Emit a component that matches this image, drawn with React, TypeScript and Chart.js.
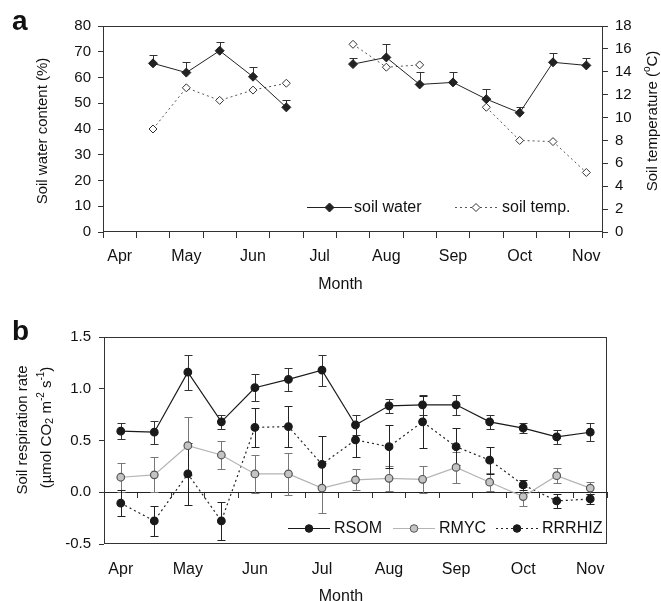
import React, { useEffect, useRef } from 'react';
import { Chart, registerables } from 'chart.js';

Chart.register(...registerables);

// ---------- data ----------
const monthLabels = ['Apr', '', 'May', '', 'Jun', '', 'Jul', '', 'Aug', '', 'Sep', '', 'Oct', '', 'Nov'];

const soilWater = [null, 65.5, 61.9, 70.4, 60.3, 48.4, null, 65.2, 67.8, 57.3, 58.1, 51.6, 46.3, 65.9, 64.7];
const soilWaterErr = [null, 3.2, 4.0, 3.5, 3.9, 2.8, null, 2.5, 5.1, 4.7, 3.9, 3.8, 2.3, 3.7, 2.7];
const soilTemp = [null, 9.0, 12.6, 11.5, 12.4, 13.0, null, 16.4, 14.4, 14.6, null, 10.9, 8.0, 7.9, 5.2];

const rsom = [0.59, 0.58, 1.16, 0.68, 1.01, 1.09, 1.18, 0.65, 0.835, 0.845, 0.845, 0.68, 0.62, 0.535, 0.58];
const rsomErr = [0.08, 0.11, 0.17, 0.065, 0.13, 0.115, 0.15, 0.095, 0.07, 0.095, 0.095, 0.07, 0.05, 0.07, 0.085];
const rmyc = [0.145, 0.168, 0.45, 0.36, 0.177, 0.177, 0.04, 0.12, 0.135, 0.125, 0.24, 0.097, -0.042, 0.16, 0.04];
const rmycErr = [0.14, 0.17, 0.28, 0.14, 0.18, 0.2, 0.24, 0.1, 0.12, 0.13, 0.15, 0.085, 0.09, 0.075, 0.06];
const rrrhiz = [-0.106, -0.277, 0.177, -0.277, 0.626, 0.635, 0.27, 0.506, 0.44, 0.68, 0.44, 0.31, 0.071, -0.084, -0.065];
const rrrhizErr = [0.125, 0.145, 0.3, 0.185, 0.185, 0.2, 0.27, 0.17, 0.21, 0.25, 0.18, 0.13, 0.05, 0.065, 0.045];

const FONT = '"Liberation Sans", Arial, Helvetica, sans-serif';
const TEXT = '#111';
const AXIS = '#333';

// ---------- plugins ----------
const framePlugin = {
  id: 'frame',
  beforeDatasetsDraw(chart: any) {
    const { ctx, chartArea: a } = chart;
    ctx.save();
    ctx.strokeStyle = AXIS;
    ctx.lineWidth = 1;
    const l = Math.round(a.left) + 0.5;
    const t = Math.round(a.top) + 0.5;
    const r = Math.round(a.right) - 0.5;
    const b = Math.round(a.bottom) - 0.5;
    ctx.strokeRect(l, t, r - l, b - t);
    ctx.restore();
  },
};

const errorBarPlugin = {
  id: 'errorBars',
  beforeDatasetsDraw(chart: any) {
    const ctx = chart.ctx;
    chart.data.datasets.forEach((ds: any, i: number) => {
      if (!ds.errors) return;
      const meta = chart.getDatasetMeta(i);
      const xs = chart.scales[meta.xAxisID];
      const ys = chart.scales[meta.yAxisID];
      const cap = ds.errorCap || 4;
      ctx.save();
      ctx.strokeStyle = ds.errorColor || '#222';
      ctx.lineWidth = 1;
      ds.data.forEach((v: number | null, j: number) => {
        const e = ds.errors[j];
        if (v == null || e == null) return;
        const x = Math.round(xs.getPixelForValue(j)) + 0.5;
        const yTop = Math.round(ys.getPixelForValue(v + e)) + 0.5;
        const yBot = ds.errorMode === 'up'
          ? ys.getPixelForValue(v)
          : Math.round(ys.getPixelForValue(v - e)) + 0.5;
        ctx.beginPath();
        ctx.moveTo(x, yTop);
        ctx.lineTo(x, yBot);
        ctx.moveTo(x - cap, yTop);
        ctx.lineTo(x + cap, yTop);
        if (ds.errorMode !== 'up') {
          ctx.moveTo(x - cap, yBot);
          ctx.lineTo(x + cap, yBot);
        }
        ctx.stroke();
      });
      ctx.restore();
    });
  },
};

function drawMarker(ctx: any, style: string, x: number, y: number, r: number, fill: string, stroke: string) {
  ctx.save();
  ctx.fillStyle = fill;
  ctx.strokeStyle = stroke;
  ctx.lineWidth = 1;
  ctx.setLineDash([]);
  ctx.beginPath();
  if (style === 'rectRot') {
    ctx.moveTo(x, y - r);
    ctx.lineTo(x + r, y);
    ctx.lineTo(x, y + r);
    ctx.lineTo(x - r, y);
    ctx.closePath();
  } else {
    ctx.arc(x, y, r, 0, Math.PI * 2);
  }
  ctx.fill();
  ctx.stroke();
  ctx.restore();
}

const legendPlugin = {
  id: 'inLegend',
  afterDatasetsDraw(chart: any, _args: any, opts: any) {
    if (!opts || !opts.items) return;
    const ctx = chart.ctx;
    opts.items.forEach((it: any) => {
      const ds = chart.data.datasets[it.ds];
      const y = opts.y;
      ctx.save();
      ctx.strokeStyle = ds.borderColor;
      ctx.lineWidth = ds.borderWidth || 1;
      ctx.setLineDash(ds.borderDash || []);
      ctx.beginPath();
      ctx.moveTo(it.x0, y + 0.5);
      ctx.lineTo(it.x1, y + 0.5);
      ctx.stroke();
      ctx.restore();
      drawMarker(ctx, ds.pointStyle, (it.x0 + it.x1) / 2, y + 0.5, ds.pointRadius, ds.pointBackgroundColor, ds.pointBorderColor);
      ctx.save();
      ctx.fillStyle = TEXT;
      ctx.font = `${opts.size}px ${FONT}`;
      ctx.textBaseline = 'middle';
      ctx.textAlign = 'left';
      ctx.fillText(ds.label, it.tx, y + 1);
      ctx.restore();
    });
  },
};

const textPlugin = {
  id: 'texts',
  afterDraw(chart: any, _args: any, opts: any) {
    if (!opts || !opts.items) return;
    const ctx = chart.ctx;
    opts.items.forEach((it: any) => {
      ctx.save();
      ctx.fillStyle = TEXT;
      ctx.textBaseline = 'alphabetic';
      ctx.textAlign = 'left';
      ctx.translate(it.x, it.y);
      if (it.rot) ctx.rotate(it.rot);
      let total = 0;
      const segs = it.segs.map((s: any) => {
        const size = s.size || it.size || 15;
        const font = `${s.bold || it.bold ? 'bold ' : ''}${size}px ${FONT}`;
        ctx.font = font;
        const w = ctx.measureText(s.t).width;
        total += w;
        return { ...s, font, w };
      });
      let x = it.align === 'left' ? 0 : -total / 2;
      segs.forEach((s: any) => {
        ctx.font = s.font;
        ctx.fillText(s.t, x, s.dy || 0);
        x += s.w;
      });
      ctx.restore();
    });
  },
};

// ---------- component ----------
export default function App() {
  const refA = useRef<HTMLCanvasElement>(null);
  const refB = useRef<HTMLCanvasElement>(null);

  useEffect(() => {
    Chart.defaults.font.family = FONT;
    Chart.defaults.font.size = 15;
    Chart.defaults.color = TEXT;

    const tickGrid = (len: number) => ({
      display: true,
      drawOnChartArea: false,
      drawTicks: true,
      tickLength: len,
      color: AXIS,
      offset: true,
    });

    const chartA = new Chart(refA.current as HTMLCanvasElement, {
      type: 'line',
      data: {
        labels: monthLabels,
        datasets: [
          {
            label: 'soil water',
            data: soilWater,
            yAxisID: 'y',
            borderColor: '#222',
            borderWidth: 1,
            pointStyle: 'rectRot',
            pointRadius: 4.5,
            pointBackgroundColor: '#222',
            pointBorderColor: '#222',
            spanGaps: false,
            errors: soilWaterErr,
            errorMode: 'up',
            errorColor: '#333',
            errorCap: 4,
          } as any,
          {
            label: 'soil temp.',
            data: soilTemp,
            yAxisID: 'y1',
            borderColor: '#555',
            borderWidth: 1,
            borderDash: [2, 3],
            pointStyle: 'rectRot',
            pointRadius: 4,
            pointBackgroundColor: '#fff',
            pointBorderColor: '#333',
            spanGaps: false,
          } as any,
        ],
      },
      options: {
        animation: false,
        responsive: false,
        devicePixelRatio: 1,
        layout: { padding: { top: 26, left: 0, right: 0, bottom: 0 } },
        plugins: {
          legend: { display: false },
          tooltip: { enabled: false },
          inLegend: {
            y: 207,
            size: 16,
            items: [
              { ds: 0, x0: 307, x1: 352, tx: 354 },
              { ds: 1, x0: 455, x1: 497, tx: 502 },
            ],
          },
          texts: {
            items: [
              { segs: [{ t: 'a' }], x: 12, y: 30, size: 28, bold: true, align: 'left' },
              { segs: [{ t: 'Soil water content (%)' }], x: 47, y: 131, rot: -Math.PI / 2 },
              {
                segs: [{ t: 'Soil temperature (' }, { t: 'o', size: 10, dy: -7 }, { t: 'C)' }],
                x: 657, y: 121, rot: -Math.PI / 2,
              },
              { segs: [{ t: 'Month' }], x: 340.5, y: 289, size: 16 },
            ],
          },
        } as any,
        scales: {
          x: {
            type: 'category',
            offset: true,
            grid: tickGrid(6),
            border: { display: false },
            ticks: { autoSkip: false, maxRotation: 0, minRotation: 0, padding: 9, color: TEXT, font: { size: 16 } },
            afterFit: (s: any) => { s.height = 68; },
          },
          y: {
            position: 'left',
            min: 0,
            max: 80,
            grid: { ...tickGrid(5), offset: false },
            border: { display: false },
            ticks: { stepSize: 10, padding: 7, color: TEXT },
            afterFit: (s: any) => { s.width = 103; },
          },
          y1: {
            position: 'right',
            min: 0,
            max: 18,
            grid: { ...tickGrid(5), offset: false },
            border: { display: false },
            ticks: { stepSize: 2, padding: 7, color: TEXT },
            afterFit: (s: any) => { s.width = 58; },
          },
        },
      },
      plugins: [framePlugin, errorBarPlugin, legendPlugin, textPlugin],
    } as any);

    const chartB = new Chart(refB.current as HTMLCanvasElement, {
      type: 'line',
      data: {
        labels: monthLabels,
        datasets: [
          {
            label: 'RSOM',
            data: rsom,
            borderColor: '#1a1a1a',
            borderWidth: 1.2,
            pointStyle: 'circle',
            pointRadius: 3.8,
            pointBackgroundColor: '#1a1a1a',
            pointBorderColor: '#1a1a1a',
            errors: rsomErr,
            errorColor: '#333',
            errorCap: 4,
          } as any,
          {
            label: 'RMYC',
            data: rmyc,
            borderColor: '#b4b4b4',
            borderWidth: 1.2,
            pointStyle: 'circle',
            pointRadius: 3.8,
            pointBackgroundColor: '#c4c4c4',
            pointBorderColor: '#555',
            errors: rmycErr,
            errorColor: '#777',
            errorCap: 4,
          } as any,
          {
            label: 'RRRHIZ',
            data: rrrhiz,
            borderColor: '#222',
            borderWidth: 1.2,
            borderDash: [2, 3],
            pointStyle: 'circle',
            pointRadius: 3.8,
            pointBackgroundColor: '#1a1a1a',
            pointBorderColor: '#1a1a1a',
            errors: rrrhizErr,
            errorColor: '#222',
            errorCap: 4,
          } as any,
        ],
      },
      options: {
        animation: false,
        responsive: false,
        devicePixelRatio: 1,
        layout: { padding: { top: 37, left: 0, right: 54, bottom: 0 } },
        plugins: {
          legend: { display: false },
          tooltip: { enabled: false },
          inLegend: {
            y: 228,
            size: 16,
            items: [
              { ds: 0, x0: 288, x1: 330, tx: 334 },
              { ds: 1, x0: 393, x1: 435, tx: 439 },
              { ds: 2, x0: 496, x1: 538, tx: 542 },
            ],
          },
          texts: {
            items: [
              { segs: [{ t: 'b' }], x: 12, y: 40, size: 28, bold: true, align: 'left' },
              { segs: [{ t: 'Soil respiration rate' }], x: 27, y: 130, rot: -Math.PI / 2 },
              {
                segs: [
                  { t: '(µmol CO' },
                  { t: '2', size: 11, dy: 2 },
                  { t: ' m' },
                  { t: '-2', size: 10, dy: -7 },
                  { t: ' s' },
                  { t: '-1', size: 10, dy: -7 },
                  { t: ')' },
                ],
                x: 51, y: 127.5, rot: -Math.PI / 2,
              },
              { segs: [{ t: 'Month' }], x: 341, y: 300.5, size: 16 },
            ],
          },
        } as any,
        scales: {
          x: {
            type: 'category',
            offset: true,
            grid: { display: false, drawTicks: false },
            border: { display: false },
            ticks: { autoSkip: false, maxRotation: 0, minRotation: 0, padding: 16, color: TEXT, font: { size: 16 } },
            afterFit: (s: any) => { s.height = 57; },
          },
          x2: {
            type: 'category',
            axis: 'x',
            position: { y: 0 },
            offset: true,
            grid: tickGrid(5),
            border: { display: true, color: '#222', width: 1 },
            ticks: { display: false },
          },
          y: {
            position: 'left',
            min: -0.5,
            max: 1.5,
            grid: { ...tickGrid(5), offset: false },
            border: { display: false },
            ticks: {
              stepSize: 0.5,
              padding: 8,
              color: TEXT,
              callback: (v: any) => Number(v).toFixed(1),
            },
            afterFit: (s: any) => { s.width = 104; },
          },
        },
      },
      plugins: [framePlugin, errorBarPlugin, legendPlugin, textPlugin],
    } as any);

    return () => {
      chartA.destroy();
      chartB.destroy();
    };
  }, []);

  return (
    <div
      style={{
        position: 'absolute',
        left: 0,
        top: 0,
        width: 661,
        height: 601,
        background: '#fff',
        overflow: 'hidden',
      }}
    >
      <canvas ref={refA} width={661} height={300} style={{ position: 'absolute', left: 0, top: 0, width: 661, height: 300 }} />
      <canvas ref={refB} width={661} height={301} style={{ position: 'absolute', left: 0, top: 300, width: 661, height: 301 }} />
    </div>
  );
}
